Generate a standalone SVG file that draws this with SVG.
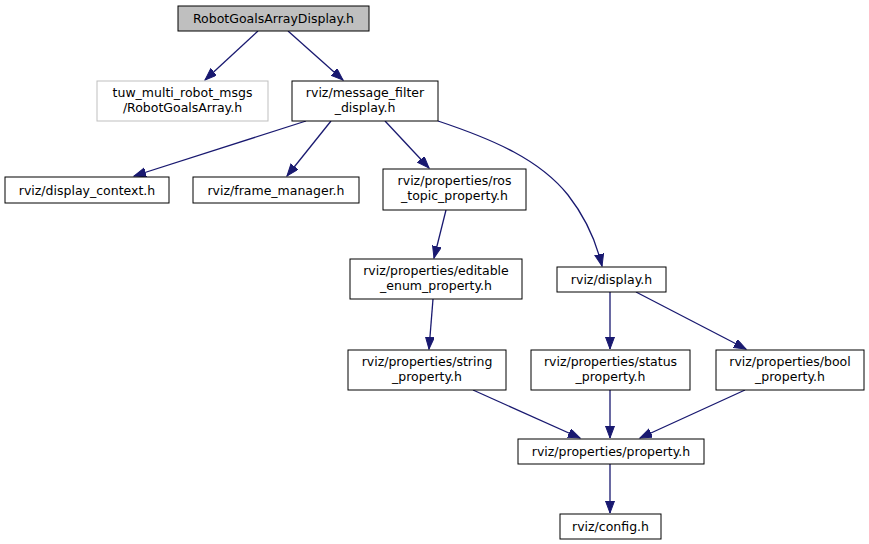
<svg xmlns="http://www.w3.org/2000/svg" width="869" height="544" viewBox="0 0 869 544">
<defs>
<style>
.n rect{fill:#fff;stroke:#000;stroke-width:1}
.g rect{fill:#fff;stroke:#bfbfbf;stroke-width:1}
.r rect{fill:#bfbfbf;stroke:#000;stroke-width:1}
text{font-family:"DejaVu Sans","Liberation Sans",sans-serif;font-size:12.5px;fill:#000;text-anchor:middle}
.e path{fill:none;stroke:#191970;stroke-width:1.3;marker-end:url(#a)}
</style>
<marker id="a" markerUnits="userSpaceOnUse" markerWidth="14" markerHeight="11" refX="12" refY="4.5" orient="auto">
<path d="M0,0 L12,4.5 L0,9 z" fill="#191970" stroke="#191970"/>
</marker>
</defs>
<rect width="869" height="544" fill="#fff"/>
<g class="e" id="edges">
<path d="M258,31 L205,80"/>
<path d="M288,31 L343,80"/>
<path d="M306,121 L134,176"/>
<path d="M331,121 L287,176"/>
<path d="M385,121 L429,168"/>
<path d="M438,121 C495,140 540,160 568,195 C586,218 597,245 602,266"/>
<path d="M446,210 L434,258"/>
<path d="M433,299 L429,349"/>
<path d="M610,292 L610,349"/>
<path d="M636,292 L746,349"/>
<path d="M473,390 L580,438"/>
<path d="M610,390 L610,438"/>
<path d="M745,390 L640,438"/>
<path d="M610,464 L610,513"/>
</g>
<g id="n1" class="r"><rect x="178" y="6" width="191" height="25"/><text x="273.5" y="23">RobotGoalsArrayDisplay.h</text></g>
<g id="n2" class="g"><rect x="97" y="81" width="171" height="40"/><text x="182.5" y="97">tuw_multi_robot_msgs</text><text x="182.5" y="112">/RobotGoalsArray.h</text></g>
<g id="n3" class="n"><rect x="292" y="81" width="146" height="40"/><text x="365" y="97">rviz/message_filter</text><text x="365" y="112">_display.h</text></g>
<g id="n4" class="n"><rect x="5" y="177" width="164" height="26"/><text x="87" y="194.5">rviz/display_context.h</text></g>
<g id="n5" class="n"><rect x="193" y="177" width="166" height="26"/><text x="276" y="194.5">rviz/frame_manager.h</text></g>
<g id="n6" class="n"><rect x="383" y="169" width="143" height="41"/><text x="454.5" y="185">rviz/properties/ros</text><text x="454.5" y="200">_topic_property.h</text></g>
<g id="n7" class="n"><rect x="350" y="259" width="172" height="40"/><text x="436" y="275">rviz/properties/editable</text><text x="436" y="290">_enum_property.h</text></g>
<g id="n8" class="n"><rect x="557" y="267" width="109" height="25"/><text x="611.5" y="284">rviz/display.h</text></g>
<g id="n9" class="n"><rect x="348" y="350" width="158" height="40"/><text x="427" y="366">rviz/properties/string</text><text x="427" y="381">_property.h</text></g>
<g id="n10" class="n"><rect x="531" y="350" width="159" height="40"/><text x="610.5" y="366">rviz/properties/status</text><text x="610.5" y="381">_property.h</text></g>
<g id="n11" class="n"><rect x="716" y="350" width="148" height="40"/><text x="790" y="366">rviz/properties/bool</text><text x="790" y="381">_property.h</text></g>
<g id="n12" class="n"><rect x="518" y="439" width="186" height="25"/><text x="611" y="456">rviz/properties/property.h</text></g>
<g id="n13" class="n"><rect x="560" y="514" width="101" height="25"/><text x="610.5" y="531">rviz/config.h</text></g>
</svg>
